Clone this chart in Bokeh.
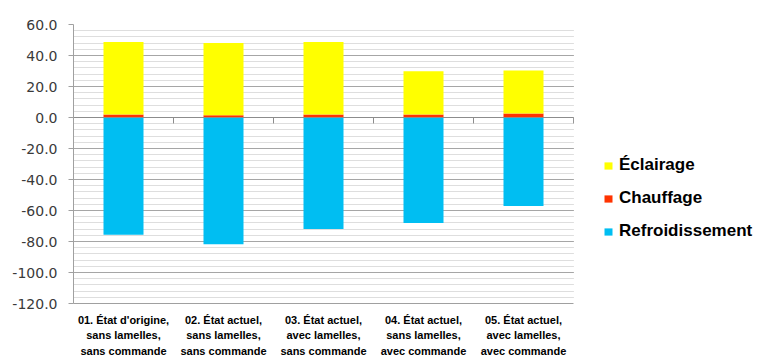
from bokeh.plotting import figure
from bokeh.models import (Range1d, FixedTicker, SingleIntervalTicker, Legend, LegendItem,
                          ColumnDataSource, NumeralTickFormatter, BoxAnnotation)
from bokeh.embed import file_html
from bokeh.resources import INLINE

categories = [
    "01. État d'origine,\nsans lamelles,\nsans commande",
    "02. État actuel,\nsans lamelles,\nsans commande",
    "03. État actuel,\navec lamelles,\nsans commande",
    "04. État actuel,\nsans lamelles,\navec commande",
    "05. État actuel,\navec lamelles,\navec commande",
]
chauffage = [1.9, 1.5, 1.9, 1.9, 2.6]
eclairage = [46.8, 46.5, 46.8, 27.9, 27.8]
refroidissement = [-75.7, -81.7, -71.9, -68.0, -57.1]

y_ticks_interval = 20
y_min, y_max = -120, 60

n = len(categories)
xs = [i + 0.5 for i in range(n)]

W, H = 758, 359
left_border = 73
plot_w = 500  # pixel width of the category area
x_end = n * (W - left_border) / plot_w  # extra room on the right for the legend

src = ColumnDataSource(dict(x=xs, chauffage=chauffage, eclairage=eclairage,
                            refroidissement=refroidissement))

p = figure(width=W, height=H, output_backend="svg", toolbar_location=None,
           x_range=Range1d(0, x_end), y_range=Range1d(y_min, y_max),
           min_border_left=left_border, min_border_right=0, min_border_top=24,
           min_border_bottom=54, background_fill_color="white",
           border_fill_color="white")
p.outline_line_color = None

# axes
p.yaxis.ticker = SingleIntervalTicker(interval=y_ticks_interval, num_minor_ticks=5)
p.yaxis.formatter = NumeralTickFormatter(format="0.0")
p.yaxis.axis_line_color = "#a0a0a0"
p.yaxis.major_tick_line_color = "#a0a0a0"
p.yaxis.major_tick_out = 5
p.yaxis.major_tick_in = 0
p.yaxis.minor_tick_line_color = None
p.yaxis.major_label_standoff = 11
p.yaxis.major_label_text_font = "DejaVu Sans"
p.yaxis.major_label_text_font_size = "14px"
p.yaxis.major_label_text_color = "#3a3a3a"

p.xaxis.ticker = FixedTicker(ticks=xs)
p.xaxis.bounds = (0, n)
p.xaxis.major_label_overrides = {x: c for x, c in zip(xs, categories)}
p.xaxis.axis_line_color = "#a0a0a0"
p.xaxis.major_tick_line_color = None
p.xaxis.major_tick_out = 0
p.xaxis.major_tick_in = 0
p.xaxis.minor_tick_line_color = None
p.xaxis.minor_tick_out = 0
p.xaxis.major_label_standoff = 10
p.xaxis.major_label_text_font = "Liberation Sans"
p.xaxis.major_label_text_font_style = "bold"
p.xaxis.major_label_text_font_size = "11px"
p.xaxis.major_label_text_line_height = 1.3
p.xaxis.major_label_text_color = "black"

p.xgrid.grid_line_color = None
p.ygrid.grid_line_color = "#a6a6a6"
p.ygrid.minor_grid_line_color = "#dedede"

w = 0.4
r_ref = p.vbar(x="x", top=0, bottom="refroidissement", width=w, source=src,
               fill_color="#00BEF2", line_color=None)
stack = p.vbar_stack(["chauffage", "eclairage"], x="x", width=w, source=src,
                     fill_color=["#FF3300", "#FFFF00"], line_color=None)

# zero axis line with category-boundary ticks
p.line(x=[0, n], y=[0, 0], line_color="#8c8c8c", line_width=1)
tick_len = 6 * (y_max - y_min) / 281
p.segment(x0=list(range(1, n + 1)), y0=[0] * n, x1=list(range(1, n + 1)),
          y1=[-tick_len] * n, line_color="#8c8c8c", line_width=1)

# white cover for the legend area (grid stops at the last category)
p.add_layout(BoxAnnotation(left=n + 0.004, fill_color="white", fill_alpha=1,
                           line_color=None))

legend = Legend(items=[
    LegendItem(label="Éclairage", renderers=[stack[1]]),
    LegendItem(label="Chauffage", renderers=[stack[0]]),
    LegendItem(label="Refroidissement", renderers=[r_ref]),
], location=(530, 62))
legend.margin = 0
legend.padding = 0
legend.border_line_color = None
legend.background_fill_alpha = 0
legend.glyph_width = 10
legend.glyph_height = 9
legend.label_standoff = 6
legend.spacing = 13
legend.label_height = 20
legend.label_text_font = "Liberation Sans"
legend.label_text_font_style = "bold"
legend.label_text_font_size = "17px"
legend.label_text_color = "black"
p.add_layout(legend, "center")

open("out.html", "w").write(file_html(p, INLINE))
